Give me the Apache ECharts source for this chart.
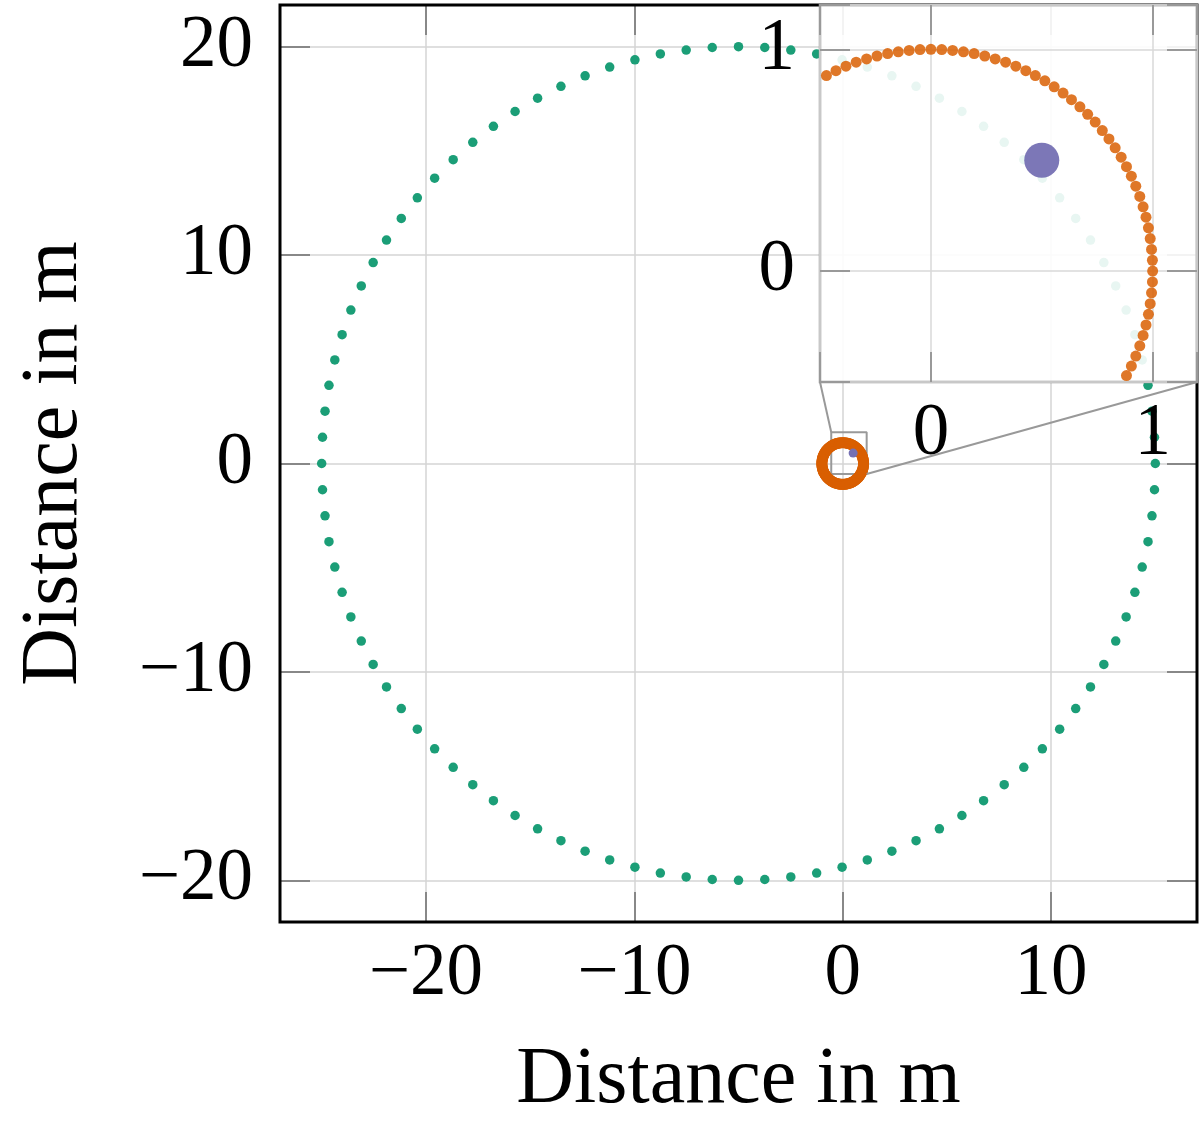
<!DOCTYPE html>
<html>
<head>
<meta charset="utf-8">
<title>Distance in m</title>
<script src="https://cdn.jsdelivr.net/npm/echarts@6/dist/echarts.min.js"></script>
<style>html,body{margin:0;padding:0;background:#fff;}</style>
</head>
<body>
<div id="main" style="width:1200px;height:1127px;"></div>
<script type="text/javascript">
  // green path: big circle (centre near -5,0, radius 20)
  var greenPath = [
    [15,0],[14.96,1.26],[14.84,2.51],[14.65,3.75],[14.37,4.97],[14.02,6.18],[13.60,7.36],[13.10,8.52],
    [12.53,9.64],[11.89,10.72],[11.18,11.76],[10.41,12.75],[9.58,13.69],[8.69,14.58],[7.75,15.41],[6.76,16.18],
    [5.72,16.89],[4.64,17.53],[3.52,18.10],[2.36,18.60],[1.18,19.02],[-0.03,19.37],[-1.25,19.65],[-2.49,19.84],
    [-3.74,19.96],[-5,20],[-6.26,19.96],[-7.51,19.84],[-8.75,19.65],[-9.97,19.37],[-11.18,19.02],[-12.36,18.60],
    [-13.52,18.10],[-14.64,17.53],[-15.72,16.89],[-16.76,16.18],[-17.75,15.41],[-18.69,14.58],[-19.58,13.69],[-20.41,12.75],
    [-21.18,11.76],[-21.89,10.72],[-22.53,9.64],[-23.10,8.52],[-23.60,7.36],[-24.02,6.18],[-24.37,4.97],[-24.65,3.75],
    [-24.84,2.51],[-24.96,1.26],[-25,0],[-24.96,-1.26],[-24.84,-2.51],[-24.65,-3.75],[-24.37,-4.97],[-24.02,-6.18],
    [-23.60,-7.36],[-23.10,-8.52],[-22.53,-9.64],[-21.89,-10.72],[-21.18,-11.76],[-20.41,-12.75],[-19.58,-13.69],[-18.69,-14.58],
    [-17.75,-15.41],[-16.76,-16.18],[-15.72,-16.89],[-14.64,-17.53],[-13.52,-18.10],[-12.36,-18.60],[-11.18,-19.02],[-9.97,-19.37],
    [-8.75,-19.65],[-7.51,-19.84],[-6.26,-19.96],[-5,-20],[-3.74,-19.96],[-2.49,-19.84],[-1.25,-19.65],[-0.03,-19.37],
    [1.18,-19.02],[2.36,-18.60],[3.52,-18.10],[4.64,-17.53],[5.72,-16.89],[6.76,-16.18],[7.75,-15.41],[8.69,-14.58],
    [9.58,-13.69],[10.41,-12.75],[11.18,-11.76],[11.89,-10.72],[12.53,-9.64],[13.10,-8.52],[13.60,-7.36],[14.02,-6.18],
    [14.37,-4.97],[14.65,-3.75],[14.84,-2.51],[14.96,-1.26]
  ];

  // orange path: small circle round the origin, radius 1
  var orangePath = [
    [1,0],[.999,.049],[.995,.098],[.989,.147],[.981,.195],[.970,.243],[.957,.290],[.942,.337],
    [.924,.383],[.904,.428],[.882,.471],[.858,.514],[.831,.556],[.803,.596],[.773,.634],[.741,.672],
    [.707,.707],[.672,.741],[.634,.773],[.596,.803],[.556,.831],[.514,.858],[.471,.882],[.428,.904],
    [.383,.924],[.337,.942],[.290,.957],[.243,.970],[.195,.981],[.147,.989],[.098,.995],[.049,.999],
    [0,1],[-.049,.999],[-.098,.995],[-.147,.989],[-.195,.981],[-.243,.970],[-.290,.957],[-.337,.942],
    [-.383,.924],[-.428,.904],[-.471,.882],[-.514,.858],[-.556,.831],[-.596,.803],[-.634,.773],[-.672,.741],
    [-.707,.707],[-.741,.672],[-.773,.634],[-.803,.596],[-.831,.556],[-.858,.514],[-.882,.471],[-.904,.428],
    [-.924,.383],[-.942,.337],[-.957,.290],[-.970,.243],[-.981,.195],[-.989,.147],[-.995,.098],[-.999,.049],
    [-1,0],[-.999,-.049],[-.995,-.098],[-.989,-.147],[-.981,-.195],[-.970,-.243],[-.957,-.290],[-.942,-.337],
    [-.924,-.383],[-.904,-.428],[-.882,-.471],[-.858,-.514],[-.831,-.556],[-.803,-.596],[-.773,-.634],[-.741,-.672],
    [-.707,-.707],[-.672,-.741],[-.634,-.773],[-.596,-.803],[-.556,-.831],[-.514,-.858],[-.471,-.882],[-.428,-.904],
    [-.383,-.924],[-.337,-.942],[-.290,-.957],[-.243,-.970],[-.195,-.981],[-.147,-.989],[-.098,-.995],[-.049,-.999],
    [0,-1],[.049,-.999],[.098,-.995],[.147,-.989],[.195,-.981],[.243,-.970],[.290,-.957],[.337,-.942],
    [.383,-.924],[.428,-.904],[.471,-.882],[.514,-.858],[.556,-.831],[.596,-.803],[.634,-.773],[.672,-.741],
    [.707,-.707],[.741,-.672],[.773,-.634],[.803,-.596],[.831,-.556],[.858,-.514],[.882,-.471],[.904,-.428],
    [.924,-.383],[.942,-.337],[.957,-.290],[.970,-.243],[.981,-.195],[.989,-.147],[.995,-.098],[.999,-.049]
  ];

  var purplePoint = [[0.5, 0.5]];

  // zoomed region marked on the main plot
  var zoomBox = [[-0.55, -0.5], [1.15, -0.5], [1.15, 1.5], [-0.55, 1.5], [-0.55, -0.5]];

  var mainXRange = [-27, 17];
  var mainYRange = [-22, 22];
  var mainStep = 10;
  var insetRange = [-0.5, 1.2];
  var insetStep = 1;

  var axisName = 'Distance in m';
  var serif = 'Liberation Serif';

  var myChart = echarts.init(document.getElementById('main'));

  function tickText(step) {
    return function (v) {
      if (Math.abs(v / step - Math.round(v / step)) > 1e-6) return '';
      return v < 0 ? '\u2212' + Math.abs(v) : String(v);
    };
  }

  function axis(opt) {
    var a = {
      type: 'value',
      gridIndex: opt.grid,
      position: opt.pos,
      min: opt.range[0],
      max: opt.range[1],
      splitNumber: opt.split,
      z: opt.z || 0,
      axisLine: { show: false, onZero: false },
      axisTick: { show: true, inside: true, length: 30, lineStyle: { color: opt.tickColor, width: 2 } },
      axisLabel: {
        show: !!opt.labels,
        margin: opt.margin || 16,
        fontFamily: serif,
        fontSize: 73,
        color: '#000',
        formatter: tickText(opt.step)
      },
      splitLine: { show: !!opt.labels, lineStyle: { color: opt.gridColor || '#d4d4d4', width: 1.5 } }
    };
    if (opt.name) {
      a.name = opt.name;
      a.nameLocation = 'middle';
      a.nameGap = opt.nameGap;
      a.nameRotate = opt.nameRotate || 0;
      a.nameTextStyle = { fontFamily: serif, fontSize: 80, color: '#000' };
    }
    return a;
  }

  var option = {
    animation: false,
    backgroundColor: '#fff',
    grid: [
      // main frame sits above its own grid lines, below the marks
      { left: 280, top: 5, width: 918, height: 917, show: true, borderColor: '#000', borderWidth: 3, backgroundColor: 'transparent', z: 1 },
      { left: 820, top: 5, width: 378, height: 377, show: true, borderColor: '#999', borderWidth: 2.5, backgroundColor: 'rgba(255,255,255,0.9)', z: 10 }
    ],
    xAxis: [
      axis({ grid: 0, pos: 'bottom', range: mainXRange, split: 5, step: mainStep, labels: true, margin: 16, tickColor: '#888', name: axisName, nameGap: 119 }),
      axis({ grid: 0, pos: 'top', range: mainXRange, split: 5, step: mainStep, tickColor: '#888' }),
      axis({ grid: 1, pos: 'bottom', range: insetRange, split: 2, step: insetStep, labels: true, margin: 16, tickColor: '#999', gridColor: '#d8d8d8', z: 11 }),
      axis({ grid: 1, pos: 'top', range: insetRange, split: 2, step: insetStep, tickColor: '#999', z: 11 })
    ],
    yAxis: [
      axis({ grid: 0, pos: 'left', range: mainYRange, split: 5, step: mainStep, labels: true, margin: 27, tickColor: '#888', name: axisName, nameGap: 185, nameRotate: 90 }),
      axis({ grid: 0, pos: 'right', range: mainYRange, split: 5, step: mainStep, tickColor: '#888' }),
      axis({ grid: 1, pos: 'left', range: insetRange, split: 2, step: insetStep, labels: true, margin: 25, tickColor: '#999', gridColor: '#d8d8d8', z: 11 }),
      axis({ grid: 1, pos: 'right', range: insetRange, split: 2, step: insetStep, tickColor: '#999', z: 11 })
    ],
    series: [
      { type: 'line', xAxisIndex: 0, yAxisIndex: 0, data: zoomBox, symbol: 'none', silent: true,
        lineStyle: { color: '#999', width: 2 }, z: 2 },
      { type: 'scatter', xAxisIndex: 0, yAxisIndex: 0, data: greenPath, symbolSize: 9.5,
        itemStyle: { color: '#1b9e77', opacity: 1 }, z: 3 },
      { type: 'scatter', xAxisIndex: 0, yAxisIndex: 0, data: orangePath, symbolSize: 11,
        itemStyle: { color: '#d95f02', opacity: 1 }, z: 4 },
      { type: 'scatter', xAxisIndex: 0, yAxisIndex: 0, data: purplePoint, symbolSize: 9,
        itemStyle: { color: '#7570b3', opacity: 1 }, z: 5 },
      { type: 'scatter', xAxisIndex: 2, yAxisIndex: 2, data: orangePath, symbolSize: 11,
        itemStyle: { color: '#d95f02', opacity: 0.85 }, z: 12 },
      { type: 'scatter', xAxisIndex: 2, yAxisIndex: 2, data: purplePoint, symbolSize: 35,
        itemStyle: { color: '#7570b3', opacity: 0.95 }, z: 13 }
    ]
  };
  myChart.setOption(option);

  // connector lines between the marked box and the inset corners
  var insetBL = myChart.convertToPixel({ xAxisIndex: 2, yAxisIndex: 2 }, [insetRange[0], insetRange[0]]);
  var insetBR = myChart.convertToPixel({ xAxisIndex: 2, yAxisIndex: 2 }, [insetRange[1], insetRange[0]]);
  var boxTL = myChart.convertToPixel({ xAxisIndex: 0, yAxisIndex: 0 }, zoomBox[3]);
  var boxBR = myChart.convertToPixel({ xAxisIndex: 0, yAxisIndex: 0 }, zoomBox[1]);
  myChart.setOption({
    graphic: [
      { type: 'line', silent: true, z: 6,
        shape: { x1: insetBL[0], y1: insetBL[1], x2: boxTL[0], y2: boxTL[1] },
        style: { stroke: '#999', lineWidth: 2 } },
      { type: 'line', silent: true, z: 6,
        shape: { x1: insetBR[0], y1: insetBR[1], x2: boxBR[0], y2: boxBR[1] },
        style: { stroke: '#999', lineWidth: 2 } }
    ]
  });
</script>
</body>
</html>
